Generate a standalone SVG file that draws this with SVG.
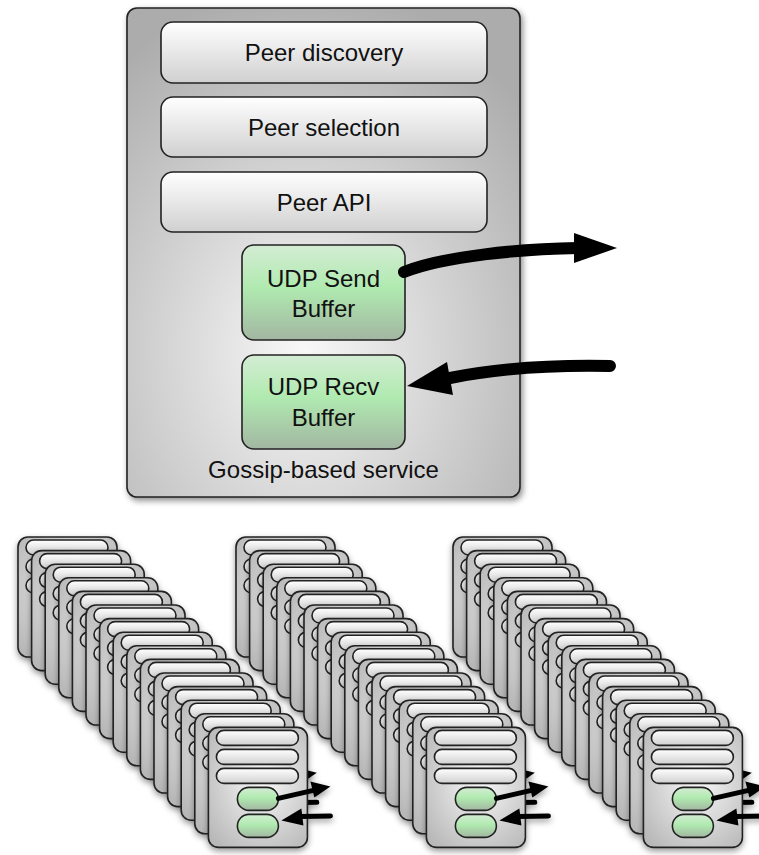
<svg xmlns="http://www.w3.org/2000/svg" xmlns:xlink="http://www.w3.org/1999/xlink" width="759" height="855" viewBox="0 0 759 855">
  <style>
    .lbl { font-family: "Liberation Sans", Arial, Helvetica, sans-serif; font-size: 24px; fill: #111; text-anchor: middle; }
    .bar { fill: url(#barGrad); stroke: #222; stroke-width: 1.6; }
    .green { fill: url(#greenGrad); stroke: #222; stroke-width: 1.6; }
    .outline { stroke: #222; stroke-width: 1.6; }
    .conn { fill: none; stroke: #000; stroke-linecap: round; }
  </style>
  <defs>
    <radialGradient id="boxGrad" cx="45%" cy="70%" r="75%">
      <stop offset="0" stop-color="#f8f8f8"/>
      <stop offset="1" stop-color="#acacac"/>
    </radialGradient>
    <radialGradient id="cardGrad" cx="55%" cy="45%" r="70%">
      <stop offset="0" stop-color="#f8f8f8"/>
      <stop offset="1" stop-color="#b8b8b8"/>
    </radialGradient>
    <linearGradient id="barGrad" x1="0" y1="0" x2="0" y2="1">
      <stop offset="0" stop-color="#ffffff"/>
      <stop offset="1" stop-color="#d0d0d0"/>
    </linearGradient>
    <linearGradient id="greenGrad" x1="0" y1="0" x2="0" y2="1">
      <stop offset="0" stop-color="#d4ecd4"/>
      <stop offset="0.45" stop-color="#b0eab0"/>
      <stop offset="1" stop-color="#a2b6a2"/>
    </linearGradient>
    <filter id="shadow" x="-20%" y="-20%" width="140%" height="140%">
      <feDropShadow dx="2" dy="3" stdDeviation="3" flood-color="#000" flood-opacity="0.45"/>
    </filter>
    <filter id="cshadow" x="-20%" y="-20%" width="150%" height="140%">
      <feDropShadow dx="0" dy="3" stdDeviation="3" flood-color="#000" flood-opacity="0.4"/>
    </filter>
    <g id="card">
      <rect x="0" y="0" width="99" height="120" rx="10" fill="url(#cardGrad)" class="outline"/>
      <rect x="8" y="3" width="82" height="15" rx="7.5" class="bar"/>
      <rect x="8" y="22" width="82" height="15" rx="7.5" class="bar"/>
      <rect x="8" y="41" width="82" height="15" rx="7.5" class="bar"/>
      <rect x="29" y="60" width="41" height="23" rx="11.5" class="green"/>
      <rect x="29" y="87" width="41" height="23" rx="11.5" class="green"/>
      <path d="M70,71 L105,63" stroke="#000" stroke-width="5" stroke-linecap="round" fill="none"/>
      <polygon points="102,54 122,59 106,70" fill="#000"/>
      <path d="M122,88.5 L92,89" stroke="#000" stroke-width="5" stroke-linecap="round" fill="none"/>
      <polygon points="73,93 93,81 95,98" fill="#000"/>
    </g>
  </defs>

  <g id="gossip-service">
    <rect x="127" y="8" width="393" height="489" rx="10" fill="url(#boxGrad)" class="outline" filter="url(#shadow)"/>
    <text class="lbl" x="323.5" y="478">Gossip-based service</text>
  </g>

  <g id="peer-discovery">
    <rect x="161" y="22" width="326" height="61" rx="12" class="bar"/>
    <text class="lbl" x="324" y="61">Peer discovery</text>
  </g>
  <g id="peer-selection">
    <rect x="161" y="97" width="326" height="60" rx="12" class="bar"/>
    <text class="lbl" x="324" y="136">Peer selection</text>
  </g>
  <g id="peer-api">
    <rect x="161" y="172" width="326" height="60" rx="12" class="bar"/>
    <text class="lbl" x="324" y="211">Peer API</text>
  </g>
  <g id="udp-send">
    <rect x="242" y="245" width="163" height="95" rx="12" class="green"/>
    <text class="lbl" x="323.5" y="287">UDP Send</text>
    <text class="lbl" x="323.5" y="317">Buffer</text>
  </g>
  <g id="udp-recv">
    <rect x="242" y="355" width="163" height="94" rx="12" class="green"/>
    <text class="lbl" x="323.5" y="395">UDP Recv</text>
    <text class="lbl" x="323.5" y="426">Buffer</text>
  </g>

  <g id="connectors">
    <path class="conn" d="M404,272 C445,256 520,249 578,248" stroke-width="12"/>
    <polygon points="574,233 617,248 574,263" fill="#000"/>
    <path class="conn" d="M610,366 C560,365 500,368 450,378" stroke-width="12"/>
    <polygon points="407,386 447,362 453,395" fill="#000"/>
  </g>

  <g id="peers-1">
    <use xlink:href="#card" x="18" y="537" filter="url(#cshadow)"/>
    <use xlink:href="#card" x="31.6" y="550.6" filter="url(#cshadow)"/>
    <use xlink:href="#card" x="45.2" y="564.2" filter="url(#cshadow)"/>
    <use xlink:href="#card" x="58.8" y="577.8" filter="url(#cshadow)"/>
    <use xlink:href="#card" x="72.4" y="591.4" filter="url(#cshadow)"/>
    <use xlink:href="#card" x="86" y="605" filter="url(#cshadow)"/>
    <use xlink:href="#card" x="99.6" y="618.6" filter="url(#cshadow)"/>
    <use xlink:href="#card" x="113.2" y="632.2" filter="url(#cshadow)"/>
    <use xlink:href="#card" x="126.8" y="645.8" filter="url(#cshadow)"/>
    <use xlink:href="#card" x="140.4" y="659.4" filter="url(#cshadow)"/>
    <use xlink:href="#card" x="154" y="673" filter="url(#cshadow)"/>
    <use xlink:href="#card" x="167.6" y="686.6" filter="url(#cshadow)"/>
    <use xlink:href="#card" x="181.2" y="700.2" filter="url(#cshadow)"/>
    <use xlink:href="#card" x="194.8" y="713.8" filter="url(#cshadow)"/>
    <use xlink:href="#card" x="208.4" y="727.4" filter="url(#cshadow)"/>
  </g>
  <g id="peers-2">
    <use xlink:href="#card" x="236" y="537" filter="url(#cshadow)"/>
    <use xlink:href="#card" x="249.6" y="550.6" filter="url(#cshadow)"/>
    <use xlink:href="#card" x="263.2" y="564.2" filter="url(#cshadow)"/>
    <use xlink:href="#card" x="276.8" y="577.8" filter="url(#cshadow)"/>
    <use xlink:href="#card" x="290.4" y="591.4" filter="url(#cshadow)"/>
    <use xlink:href="#card" x="304" y="605" filter="url(#cshadow)"/>
    <use xlink:href="#card" x="317.6" y="618.6" filter="url(#cshadow)"/>
    <use xlink:href="#card" x="331.2" y="632.2" filter="url(#cshadow)"/>
    <use xlink:href="#card" x="344.8" y="645.8" filter="url(#cshadow)"/>
    <use xlink:href="#card" x="358.4" y="659.4" filter="url(#cshadow)"/>
    <use xlink:href="#card" x="372" y="673" filter="url(#cshadow)"/>
    <use xlink:href="#card" x="385.6" y="686.6" filter="url(#cshadow)"/>
    <use xlink:href="#card" x="399.2" y="700.2" filter="url(#cshadow)"/>
    <use xlink:href="#card" x="412.8" y="713.8" filter="url(#cshadow)"/>
    <use xlink:href="#card" x="426.4" y="727.4" filter="url(#cshadow)"/>
  </g>
  <g id="peers-3">
    <use xlink:href="#card" x="453" y="537" filter="url(#cshadow)"/>
    <use xlink:href="#card" x="466.6" y="550.6" filter="url(#cshadow)"/>
    <use xlink:href="#card" x="480.2" y="564.2" filter="url(#cshadow)"/>
    <use xlink:href="#card" x="493.8" y="577.8" filter="url(#cshadow)"/>
    <use xlink:href="#card" x="507.4" y="591.4" filter="url(#cshadow)"/>
    <use xlink:href="#card" x="521" y="605" filter="url(#cshadow)"/>
    <use xlink:href="#card" x="534.6" y="618.6" filter="url(#cshadow)"/>
    <use xlink:href="#card" x="548.2" y="632.2" filter="url(#cshadow)"/>
    <use xlink:href="#card" x="561.8" y="645.8" filter="url(#cshadow)"/>
    <use xlink:href="#card" x="575.4" y="659.4" filter="url(#cshadow)"/>
    <use xlink:href="#card" x="589" y="673" filter="url(#cshadow)"/>
    <use xlink:href="#card" x="602.6" y="686.6" filter="url(#cshadow)"/>
    <use xlink:href="#card" x="616.2" y="700.2" filter="url(#cshadow)"/>
    <use xlink:href="#card" x="629.8" y="713.8" filter="url(#cshadow)"/>
    <use xlink:href="#card" x="643.4" y="727.4" filter="url(#cshadow)"/>
  </g>
</svg>
